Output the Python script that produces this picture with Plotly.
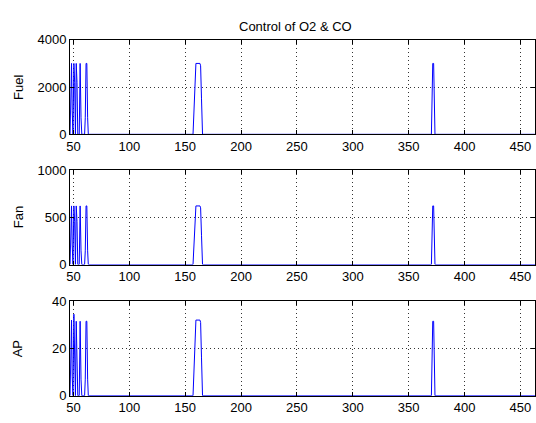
import plotly.graph_objects as go

# ---- data ----
t = [47, 47.7, 48.3, 48.9, 49.6, 50.4, 51.1, 51.8, 52.5, 53.2, 53.9, 55.2, 56.0, 56.8, 57.5,
     60.0, 60.6, 61.3, 62.0, 62.7, 63.3,
     157.0, 158.0, 159.0, 159.6, 163.2, 163.8, 164.6, 165.5,
     370.3, 371.5, 372.3, 373.5, 463.0]
fuel = [0, 2200, 3000, 1000, 0, 3000, 2200, 0, 3000, 2200, 0, 0, 3000, 700, 0,
        0, 700, 3000, 3000, 700, 0,
        0, 1500, 2900, 3000, 3000, 2900, 1500, 0,
        0, 3000, 3000, 0, 0]
fan = [0, 455, 620, 207, 0, 620, 455, 0, 620, 455, 0, 0, 620, 145, 0,
       0, 145, 620, 620, 145, 0,
       0, 310, 600, 620, 620, 600, 310, 0,
       0, 620, 620, 0, 0]
ap = [0, 24, 32, 8, 0, 34.5, 22, 0, 31.5, 14, 0, 0, 31.5, 7, 0,
      0, 7, 31.5, 31.5, 7, 0,
      0, 16, 31, 32, 32, 31, 16, 0,
      0, 31.5, 31.5, 0, 0]

x_ticks = [50, 100, 150, 200, 250, 300, 350, 400, 450]
panels = [("Fuel", fuel, [0, 2000, 4000], [0, 4000]),
          ("Fan", fan, [0, 500, 1000], [0, 1000]),
          ("AP", ap, [0, 20, 40], [0, 40])]
title_text = "Control of O2 & CO"

W, H = 536, 423
x_left, x_right = 66.7, 536.0
tops = [34, 169, 305]
ph = 98

font = dict(family="Arial, Liberation Sans, sans-serif", size=13, color="black")
fig = go.Figure()
annotations = []
for i, (name, vals, yt, yr) in enumerate(panels):
    k = "" if i == 0 else str(i + 1)
    fig.add_trace(go.Scatter(x=t, y=vals, mode="lines",
                             line=dict(color="#0000ff", width=1),
                             xaxis="x" + k, yaxis="y" + k, showlegend=False,
                             hoverinfo="skip"))
    top, bot = tops[i], tops[i] + ph
    common = dict(showline=True, linecolor="black", linewidth=1, mirror="ticks",
                  ticks="inside", ticklen=4, tickcolor="black", tickwidth=1,
                  showgrid=True, gridcolor="#333333", griddash="1px,3px", gridwidth=1,
                  zeroline=False, tickfont=font, ticklabeloverflow="allow")
    fig.update_layout(**{
        "xaxis" + k: dict(domain=[x_left / W, x_right / W], range=[47, 463.0],
                          tickvals=x_ticks, anchor="y" + k, **common),
        "yaxis" + k: dict(domain=[1 - bot / H, 1 - top / H], range=yr,
                          tickvals=yt, anchor="x" + k, **common),
    })
    annotations.append(dict(text=name, x=14 / W, y=1 - (top + ph / 2) / H,
                            xref="paper", yref="paper", showarrow=False,
                            textangle=-90, font=font, xanchor="center", yanchor="middle"))

annotations.append(dict(text=title_text, x=294 / W, y=1 - 20 / H,
                        xref="paper", yref="paper", showarrow=False, font=font,
                        xanchor="center", yanchor="middle"))

fig.update_layout(width=W, height=H, margin=dict(l=0, r=0, t=0, b=0),
                  paper_bgcolor="white", plot_bgcolor="white",
                  annotations=annotations, font=font)
fig.write_html("out.html", config={"displayModeBar": False},
               post_script="document.body.style.margin='0px';document.body.style.overflow='hidden';")
